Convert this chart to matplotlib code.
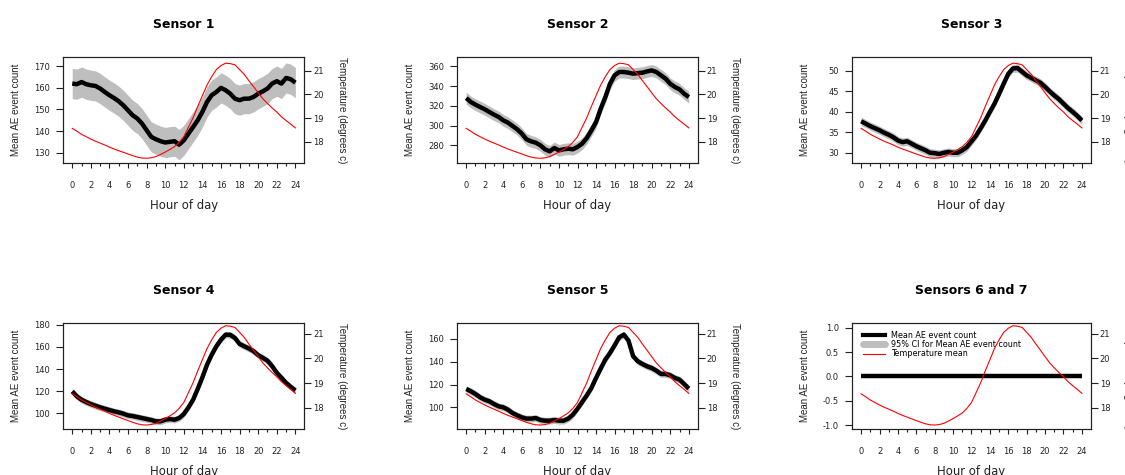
import matplotlib
matplotlib.use('Agg')
import matplotlib.pyplot as plt
from matplotlib.lines import Line2D
from matplotlib.transforms import offset_copy
import numpy as np

plt.rcParams['font.family'] = 'DejaVu Sans'
plt.rcParams['axes.unicode_minus'] = False

### Datos (cada media hora) ###
hours = np.arange(0, 24.5, 0.5)

temp_mean = [18.57, 18.45, 18.32, 18.22, 18.12, 18.03, 17.95, 17.87, 17.78, 17.70,
             17.63, 17.56, 17.49, 17.42, 17.36, 17.32, 17.31, 17.33, 17.38, 17.47,
             17.57, 17.68, 17.80, 17.98, 18.22, 18.62, 19.02, 19.50, 19.95, 20.40,
             20.75, 21.05, 21.22, 21.32, 21.30, 21.25, 21.05, 20.85, 20.58, 20.33,
             20.07, 19.82, 19.62, 19.43, 19.26, 19.06, 18.90, 18.75, 18.59]

sensor1 = [162.0, 161.7, 162.7, 161.7, 161.2, 160.9, 159.7, 158.1, 156.6, 155.3,
           153.8, 151.9, 149.6, 147.3, 145.8, 143.5, 140.4, 137.3, 136.2, 135.3,
           134.7, 135.0, 135.3, 133.7, 135.7, 138.8, 141.9, 145.0, 148.9, 153.5,
           156.6, 158.1, 160.0, 158.9, 157.3, 155.0, 154.3, 155.0, 155.0, 155.8,
           157.3, 158.4, 159.7, 162.0, 163.1, 162.0, 164.6, 164.0, 162.4]

sensor2 = [327.9, 323.9, 321.2, 318.8, 316.5, 313.8, 311.1, 308.7, 305.3, 303.0,
           299.6, 296.2, 291.8, 286.1, 284.0, 282.7, 280.0, 276.0, 273.9, 277.3,
           274.9, 276.0, 276.6, 276.0, 278.3, 281.7, 287.4, 295.2, 303.6, 317.1,
           328.9, 342.4, 350.9, 354.3, 354.3, 353.6, 352.6, 353.2, 353.6, 354.9,
           355.9, 354.3, 350.9, 347.5, 342.4, 339.1, 336.7, 332.3, 328.9]

sensor3 = [37.7, 37.1, 36.5, 36.0, 35.5, 34.9, 34.4, 33.8, 33.0, 32.6,
           32.8, 32.2, 31.6, 31.1, 30.6, 30.0, 29.9, 29.7, 30.0, 30.2,
           30.0, 30.0, 30.6, 31.4, 32.8, 34.2, 36.0, 37.9, 40.0, 42.0,
           44.4, 46.9, 49.3, 50.6, 50.7, 49.8, 48.9, 48.3, 47.7, 47.1,
           46.1, 45.0, 44.0, 43.1, 42.0, 40.9, 40.0, 39.0, 37.9]

sensor4 = [119.8, 115.3, 112.3, 110.2, 108.4, 106.9, 105.4, 104.2, 103.0, 101.8,
           100.9, 99.7, 98.2, 97.6, 96.7, 95.8, 94.9, 94.0, 92.8, 92.8,
           94.3, 94.9, 94.3, 95.8, 99.4, 105.4, 112.3, 122.1, 132.5, 143.9,
           152.9, 160.5, 166.5, 171.0, 170.8, 168.0, 162.6, 160.5, 158.5, 156.1,
           152.5, 150.1, 147.5, 142.6, 136.6, 132.1, 127.5, 123.9, 120.6]

sensor5 = [116.1, 114.1, 111.7, 108.8, 106.7, 105.3, 102.9, 100.9, 100.0, 98.0,
           95.0, 93.0, 91.2, 90.1, 90.1, 90.6, 88.9, 88.3, 88.3, 88.9,
           88.3, 88.3, 90.1, 93.6, 98.8, 104.7, 110.5, 117.0, 125.8, 134.0,
           141.9, 147.7, 154.4, 161.5, 163.8, 158.5, 144.8, 140.4, 138.0, 136.0,
           134.5, 132.2, 129.3, 129.3, 128.1, 125.8, 124.3, 120.5, 116.4]

sensor67 = [0.0] * len(hours)

# semiancho del IC 95% por sensor
ci_half = [7.0, 6.0, 1.0, 3.0, 3.0, 0.0]

titles = ['Sensor 1', 'Sensor 2', 'Sensor 3', 'Sensor 4', 'Sensor 5', 'Sensors 6 and 7']
series = [sensor1, sensor2, sensor3, sensor4, sensor5, sensor67]

ylims = [(125.2, 174.3), (262.1, 369.5), (27.5, 53.4), (85.9, 181.5), (81.0, 174.0), (-1.08, 1.097)]
yticks = [[130, 140, 150, 160, 170], [280, 300, 320, 340, 360], [30, 35, 40, 45, 50],
          [100, 120, 140, 160, 180], [100, 120, 140, 160], [-1.0, -0.5, 0.0, 0.5, 1.0]]
yticklabels = [None, None, None, None, None, ['-1.0', '-0.5', '0.0', '0.5', '1.0']]
temp_lims = [(17.11, 21.58)] * 3 + [(17.15, 21.43)] * 3

### Posiciones de los paneles (pixeles) ###
W, H = 1125, 475
lefts = [63.3, 457.3, 852.3]
widths = [241.0, 240.4, 238.4]
tops = [57, 323]
ax_h = 106

fig = plt.figure(figsize=(W / 100, H / 100), dpi=100)

txt_col = '#222222'
label_font = ['Liberation Sans', 'DejaVu Sans']

for i in range(6):
    r, c = divmod(i, 3)
    rect = [lefts[c] / W, (H - tops[r] - ax_h) / H, widths[c] / W, ax_h / H]
    ax = fig.add_axes(rect)
    y = np.array(series[i])
    if ci_half[i] > 0:
        ax.fill_between(hours, y - ci_half[i], y + ci_half[i], color='#BEBEBE', lw=0)
    ax.plot(hours, y, color='black', lw=3.2, solid_capstyle='butt')
    ax.set_xlim(-0.96, 24.96)
    ax.set_ylim(ylims[i])
    ax.set_xticks(range(0, 25, 2))
    ax.set_xticks(range(1, 25, 2), minor=True)
    ax.set_yticks(yticks[i])
    if yticklabels[i] is not None:
        ax.set_yticklabels(yticklabels[i])
    ax.tick_params(axis='x', which='major', length=3.3, width=0.8, pad=9.5,
                   labelsize=6, colors=txt_col)
    ax.tick_params(axis='x', which='minor', length=2.2, width=0.8, colors=txt_col)
    ax.tick_params(axis='y', length=4.7, width=0.8, pad=4.8, labelsize=6, colors=txt_col)
    for s in ax.spines.values():
        s.set_linewidth(0.8)
        s.set_color(txt_col)

    # temperatura en eje derecho
    tx = ax.twinx()
    tx.plot(hours, temp_mean, color='red', lw=0.8)
    tx.set_ylim(temp_lims[i])
    tx.set_yticks([18, 19, 20, 21])
    tx.tick_params(axis='y', length=4.7, width=0.8, pad=1.8, labelsize=6, colors=txt_col)
    for s in tx.spines.values():
        s.set_linewidth(0.8)
        s.set_color(txt_col)

    # textos
    ax.text(0.5, 1, titles[i], transform=offset_copy(ax.transAxes, fig=fig, y=28.7, units='dots'),
            ha='center', va='baseline', fontsize=9, fontweight='bold', color='black')
    ax.text(0.5, 0, 'Hour of day', transform=offset_copy(ax.transAxes, fig=fig, y=-46.5, units='dots'),
            ha='center', va='baseline', fontsize=8.4, color=txt_col)
    ax.text(0, 0.5, 'Mean AE event count', transform=offset_copy(ax.transAxes, fig=fig, x=-47.3, units='dots'),
            ha='center', va='center', rotation=90, fontsize=7, family=label_font, color=txt_col)
    ax.text(1, 0.5, 'Temperature (degrees c)', transform=offset_copy(ax.transAxes, fig=fig, x=37.7, units='dots'),
            ha='center', va='center', rotation=-90, fontsize=7, family=label_font, color=txt_col)

    if i == 5:
        handles = [Line2D([], [], color='black', lw=3),
                   Line2D([], [], color='#BEBEBE', lw=5, solid_capstyle='round'),
                   Line2D([], [], color='red', lw=0.8)]
        labels = ['Mean AE event count', '95% CI for Mean AE event count', 'Temperature mean']
        leg = ax.legend(handles, labels, loc='upper left', bbox_to_anchor=(0.028, 0.962),
                        borderaxespad=0, fontsize=5.8, handlelength=2.8, handletextpad=0.7,
                        borderpad=0.45, labelspacing=0.05, fancybox=False, framealpha=0,
                        edgecolor='black')
        leg.get_frame().set_linewidth(0.8)

plt.savefig('out.png', dpi=100)
